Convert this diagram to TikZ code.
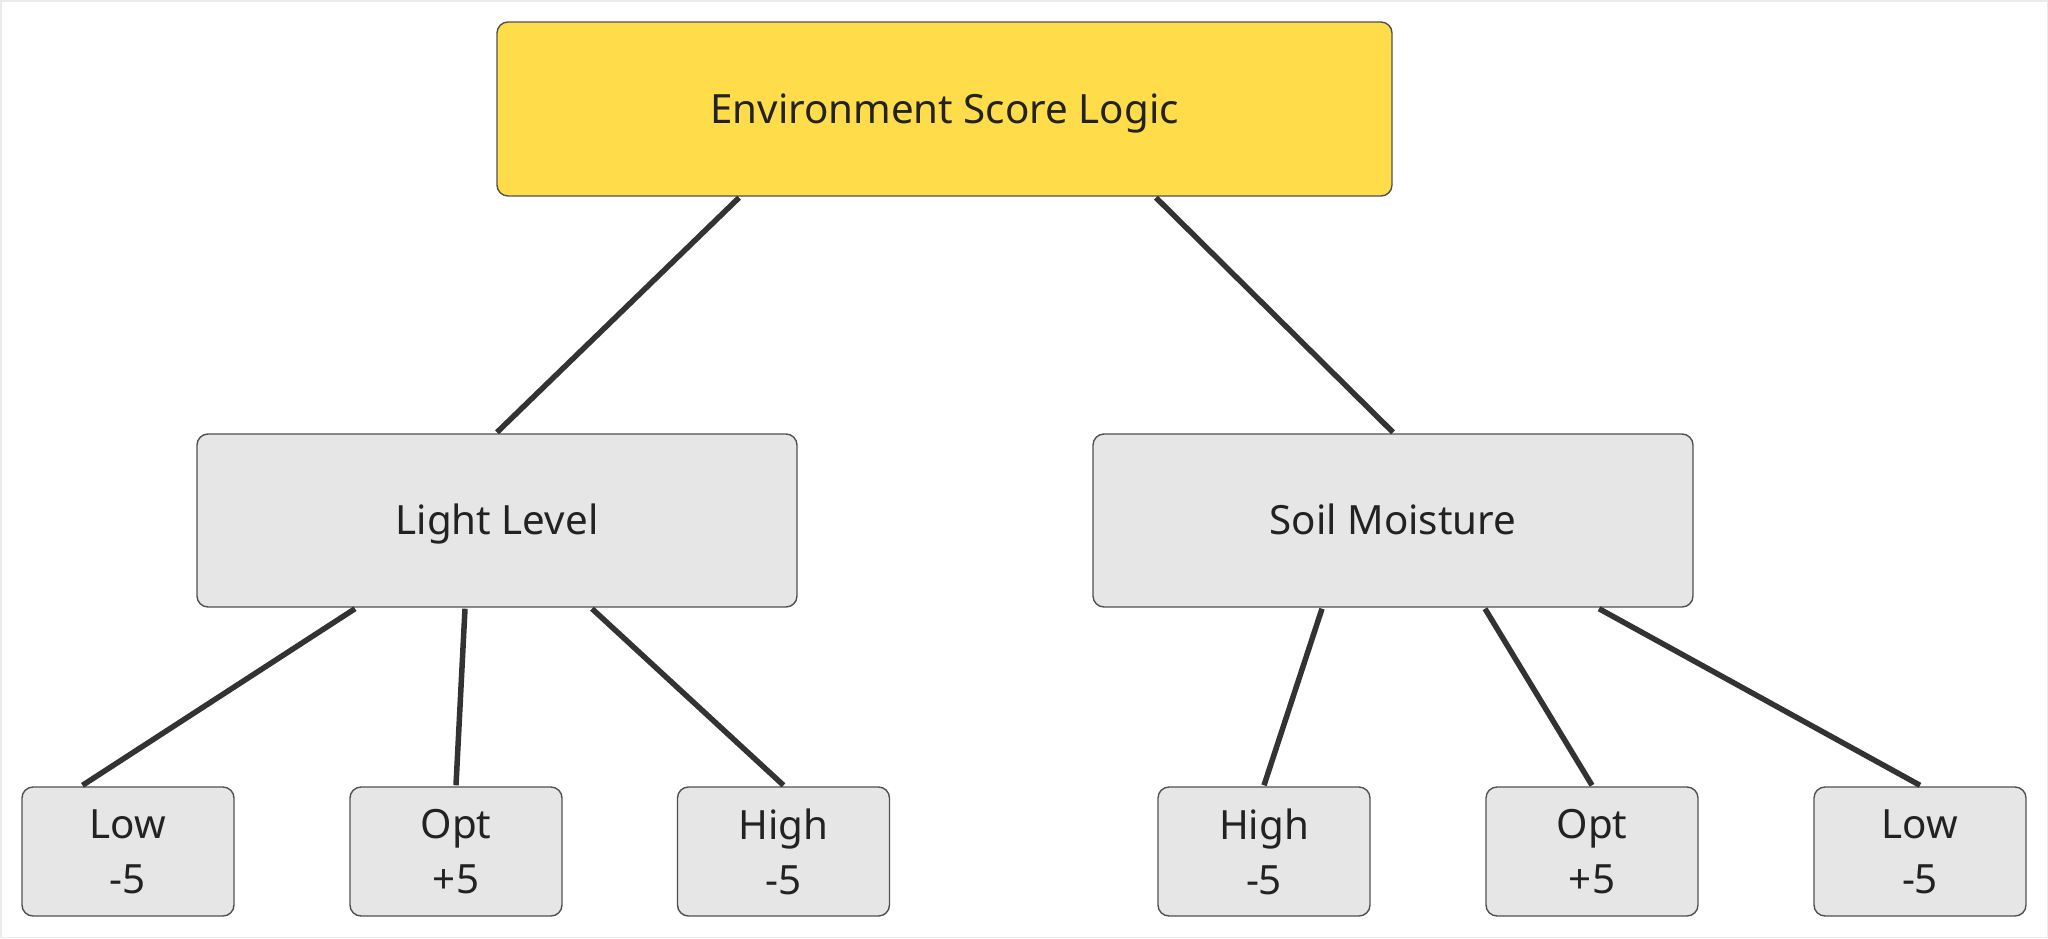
\documentclass[tikz,border=0pt]{standalone}
\usepackage{fontspec}
\setmainfont{Noto Sans}
\definecolor{topfill}{RGB}{255,221,74}
\definecolor{boxfill}{RGB}{230,230,230}
\definecolor{boxline}{RGB}{80,80,80}
\definecolor{edgecol}{RGB}{51,51,51}
\definecolor{textcol}{RGB}{34,34,34}
\tikzset{
  basebox/.style={draw=boxline, line width=1.4pt, rounded corners=11pt, inner sep=0pt,
    font=\fontsize{40.3}{55}\selectfont, text=textcol, align=center},
  oneline/.style={text height=28.8pt, text depth=0pt},
  topbox/.style={basebox, oneline, fill=topfill, minimum width=895pt, minimum height=174pt},
  midbox/.style={basebox, oneline, fill=boxfill, minimum width=600pt, minimum height=173pt},
  leafbox/.style={basebox, fill=boxfill, minimum width=212pt, minimum height=129pt},
  edge/.style={draw=edgecol, line width=5.5pt}
}
\begin{document}
\begin{tikzpicture}[x=1pt,y=-1pt]
\useasboundingbox (0,0) rectangle (2048,938);
\draw[draw=black!8, line width=1.5pt] (0.75,0.75) rectangle (2047.25,937.25);
\path (944.5,109) node[topbox] (top) {Environment Score Logic};
\path (497,520.5) node[midbox] (light) {Light Level};
\path (1393,520.5) node[midbox] (soil) {Soil Moisture};
\path (128,851.5) node[leafbox] (l1) {Low\\-5};
\path (456,851.5) node[leafbox] (l2) {Opt\\+5};
\path (783.5,851.5) node[leafbox] (l3) {High\\-5};
\path (1264,851.5) node[leafbox] (s1) {High\\-5};
\path (1592,851.5) node[leafbox] (s2) {Opt\\+5};
\path (1920,851.5) node[leafbox] (s3) {Low\\-5};
\draw[edge] ([xshift=-205.5pt,yshift=-1pt]top.south) -- ([yshift=1pt]light.north);
\draw[edge] ([xshift=211.5pt,yshift=-1pt]top.south) -- ([yshift=1pt]soil.north);
\draw[edge] ([xshift=-142pt,yshift=-1pt]light.south) -- ([xshift=-45.5pt,yshift=1pt]l1.north);
\draw[edge] ([xshift=-32pt,yshift=-1pt]light.south) -- ([yshift=1pt]l2.north);
\draw[edge] ([xshift=95pt,yshift=-1pt]light.south) -- ([yshift=1pt]l3.north);
\draw[edge] ([xshift=-71pt,yshift=-1pt]soil.south) -- ([yshift=1pt]s1.north);
\draw[edge] ([xshift=92pt,yshift=-1pt]soil.south) -- ([yshift=1pt]s2.north);
\draw[edge] ([xshift=206pt,yshift=-1pt]soil.south) -- ([yshift=1pt]s3.north);
\end{tikzpicture}
\end{document}
